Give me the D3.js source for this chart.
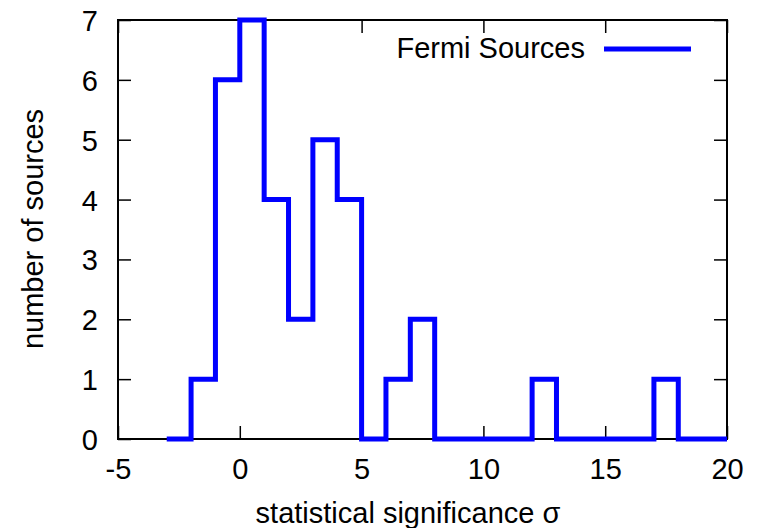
<!DOCTYPE html>
<html>
<head>
<meta charset="utf-8">
<script src="https://cdn.jsdelivr.net/npm/d3@7"></script>
<style>
  body { margin: 0; background: #fff; }
  text { font-family: "Liberation Sans", Arial, sans-serif; fill: #000; }
</style>
</head>
<body>
<svg id="chart" width="761" height="528"></svg>
<script>
// histogram bins (unit width), left edges and counts
const binStart = [-3, -2, -1, 0, 1, 2, 3, 4, 5, 6, 7, 8, 9, 10, 11, 12, 13, 14, 15, 16, 17, 18, 19]
const counts   = [ 0,  1,  6, 7, 4, 2, 5, 4, 0, 1, 2, 0, 0,  0,  0,  1,  0,  0,  0,  0,  1,  0,  0]
const xTicks = [-5, 0, 5, 10, 15, 20]
const yTicks = [0, 1, 2, 3, 4, 5, 6, 7]
const seriesName = 'Fermi Sources'

const M = {top: 20, right: 34, bottom: 89, left: 118}
const W = 761, H = 528
const FONT = 29
const TICK = 13

let svg = d3.select('#chart')

let x = d3.scaleLinear().domain([-5, 20]).range([M.left, W - M.right])
let y = d3.scaleLinear().domain([0, 7]).range([H - M.bottom, M.top])

// inward ticks on all four sides
let gx = svg.append('g')
    .attr('transform', 'translate(0,' + y(0) + ')')
    .call(d3.axisBottom(x).tickValues(xTicks).tickSizeInner(-TICK).tickSizeOuter(0)
        .tickPadding(19).tickFormat(d => String(d)))
let gxTop = svg.append('g')
    .attr('transform', 'translate(0,' + y(7) + ')')
    .call(d3.axisTop(x).tickValues(xTicks).tickSizeInner(-TICK).tickSizeOuter(0).tickFormat(''))
let gy = svg.append('g')
    .attr('transform', 'translate(' + x(-5) + ',0)')
    .call(d3.axisLeft(y).tickValues(yTicks).tickSizeInner(-TICK).tickSizeOuter(0)
        .tickPadding(20).tickFormat(d => String(d)))
let gyRight = svg.append('g')
    .attr('transform', 'translate(' + x(20) + ',0)')
    .call(d3.axisRight(y).tickValues(yTicks).tickSizeInner(-TICK).tickSizeOuter(0).tickFormat(''))

;[gx, gxTop, gy, gyRight].forEach(g => {
    g.select('.domain').remove()
    g.selectAll('.tick line').attr('stroke', '#000').attr('stroke-width', 1.5)
    g.selectAll('.tick text')
        .style('font-size', FONT + 'px')
        .style('font-family', '"Liberation Sans", Arial, sans-serif')
        .attr('fill', '#000')
})
gx.selectAll('.tick text').attr('dy', '0.71em')
gy.selectAll('.tick text').attr('dy', '0.36em')

// frame
svg.append('rect')
    .attr('x', x(-5))
    .attr('y', y(7))
    .attr('width', x(20) - x(-5))
    .attr('height', y(0) - y(7))
    .attr('fill', 'none')
    .attr('stroke', '#000')
    .attr('stroke-width', 2)

// histogram steps
let pts = binStart.map((b, i) => [b, counts[i]])
pts.push([binStart[binStart.length - 1] + 1, counts[counts.length - 1]])

let line = d3.line()
    .x(d => x(d[0]))
    .y(d => y(d[1]))
    .curve(d3.curveStepAfter)

svg.append('path')
    .datum(pts)
    .attr('d', line)
    .attr('fill', 'none')
    .attr('stroke', '#0000ff')
    .attr('stroke-width', 5)
    .attr('stroke-linejoin', 'miter')

// legend
svg.append('text')
    .attr('x', 585)
    .attr('y', 58)
    .attr('text-anchor', 'end')
    .style('font-size', FONT + 'px')
    .text(seriesName)
svg.append('line')
    .attr('x1', 604).attr('x2', 691)
    .attr('y1', 49).attr('y2', 49)
    .attr('stroke', '#0000ff')
    .attr('stroke-width', 5)

// axis titles
svg.append('text')
    .attr('x', 408)
    .attr('y', 523)
    .attr('text-anchor', 'middle')
    .style('font-size', FONT + 'px')
    .text('statistical significance σ')

svg.append('text')
    .attr('transform', 'translate(43,229) rotate(-90)')
    .attr('text-anchor', 'middle')
    .style('font-size', FONT + 'px')
    .text('number of sources')
</script>
</body>
</html>
